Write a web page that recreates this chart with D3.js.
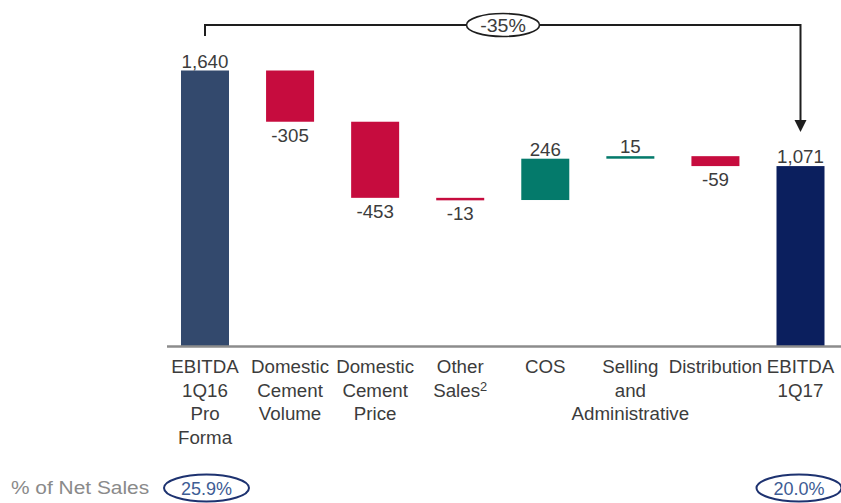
<!DOCTYPE html>
<html>
<head>
<meta charset="utf-8">
<script src="https://cdn.jsdelivr.net/npm/d3@7"></script>
<style>
  html, body { margin: 0; padding: 0; background: #ffffff; }
  svg { display: block; font-family: "Liberation Sans", Arial, Helvetica, sans-serif; }
</style>
</head>
<body>
<svg id="chart" width="841" height="503"></svg>
<script>
// EBITDA bridge, 1Q16 pro forma to 1Q17
const categories = [
  ["EBITDA", "1Q16", "Pro", "Forma"],
  ["Domestic", "Cement", "Volume"],
  ["Domestic", "Cement", "Price"],
  ["Other", "Sales\u00B2"],
  ["COS"],
  ["Selling", "and", "Administrative"],
  ["Distribution"],
  ["EBITDA", "1Q17"]
];
const values = [1640, -305, -453, -13, 246, 15, -59, 1071];
const kinds = ["total", "delta", "delta", "delta", "delta", "delta", "delta", "total"];
const netSalesPct = ["25.9%", "20.0%"];
const changeLabel = "-35%";

const colors = {
  start: "#33496d",
  end: "#0b1f5e",
  neg: "#c60c3e",
  pos: "#047a6b",
  text: "#3c3c3c",
  axis: "#8c8c8c",
  pctText: "#3d5c94",
  pctRing: "#1d3270"
};

const svg = d3.select("#chart");

const x = d3.scalePoint()
  .domain(d3.range(categories.length))
  .range([205, 800.5]);
const barW = 48;

const y = d3.scaleLinear().domain([0, 1640]).range([346, 70.5]);

// running totals for the floating segments
let running = 0;
const bars = values.map((v, i) => {
  let lo, hi;
  if (kinds[i] === "total") {
    lo = 0; hi = v; running = v;
  } else {
    const start = running;
    running += v;
    lo = Math.min(start, running); hi = Math.max(start, running);
  }
  let fill;
  if (kinds[i] === "total") fill = i === 0 ? colors.start : colors.end;
  else fill = v < 0 ? colors.neg : colors.pos;
  return { i, v, lo, hi, fill, kind: kinds[i] };
});

// bars
svg.append("g").selectAll("rect")
  .data(bars)
  .join("rect")
  .attr("x", d => x(d.i) - barW / 2)
  .attr("width", barW)
  .attr("y", d => y(d.hi))
  .attr("height", d => Math.max(2.5, y(d.lo) - y(d.hi)))
  .attr("fill", d => d.fill);

// baseline
svg.append("line")
  .attr("x1", 167).attr("x2", 841)
  .attr("y1", y(0) + 0.5).attr("y2", y(0) + 0.5)
  .attr("stroke", colors.axis).attr("stroke-width", 2.5);

// plain hyphen for negatives
const fmt = d3.formatLocale({ decimal: ".", thousands: ",", grouping: [3], currency: ["", ""], minus: "-" }).format(",");
const sx = 1.07;

// value labels
svg.append("g").selectAll("text")
  .data(bars)
  .join("text")
  .attr("transform", d => {
    const ty = (d.v < 0) ? y(d.lo) + 20 : y(d.hi) - 3;
    return `translate(${x(d.i)},${ty}) scale(${sx},1)`;
  })
  .attr("text-anchor", "middle")
  .attr("font-size", 17.5)
  .attr("fill", colors.text)
  .text(d => fmt(d.v));

// category labels
const cat = svg.append("g").selectAll("g")
  .data(categories)
  .join("g")
  .attr("transform", (d, i) => `translate(${x(i)},373)`);
cat.selectAll("text")
  .data(d => d)
  .join("text")
  .attr("transform", (d, j) => `translate(0,${j * 23.5}) scale(${sx},1)`)
  .attr("text-anchor", "middle")
  .attr("font-size", 17.5)
  .attr("fill", colors.text)
  .each(function(d) {
    const t = d3.select(this);
    if (d.endsWith("\u00B2")) {
      t.append("tspan").text(d.slice(0, -1));
      t.append("tspan").attr("font-size", 12).attr("dy", -6).text("2");
    } else {
      t.text(d);
    }
  });

// bracket from first to last total with change callout
const bY = 25;
const x0 = x(0), x1 = x(categories.length - 1);
const tipY = 132;
svg.append("path")
  .attr("d", `M${x0},36 V${bY} H${x1} V${tipY - 11}`)
  .attr("fill", "none")
  .attr("stroke", "#1e1e1e")
  .attr("stroke-width", 2);
svg.append("path")
  .attr("d", `M${x1 - 6},${tipY - 12} L${x1 + 6},${tipY - 12} L${x1},${tipY} Z`)
  .attr("fill", "#1e1e1e");

const cx = 503;
svg.append("ellipse")
  .attr("cx", cx).attr("cy", bY)
  .attr("rx", 36.5).attr("ry", 11.5)
  .attr("fill", "#fff")
  .attr("stroke", "#1e1e1e").attr("stroke-width", 1.6);
svg.append("text")
  .attr("transform", `translate(${cx},${bY + 6.5}) scale(1.12,1)`)
  .attr("text-anchor", "middle")
  .attr("font-size", 17.5)
  .attr("fill", colors.text)
  .text(changeLabel);

// % of net sales row
svg.append("text")
  .attr("transform", "translate(11,494) scale(1.13,1)")
  .attr("font-size", 18.5)
  .attr("fill", "#8a8a8a")
  .text("% of Net Sales");

const pct = svg.append("g").selectAll("g")
  .data(netSalesPct)
  .join("g")
  .attr("transform", (d, i) => `translate(${i === 0 ? 206.5 : 799},488)`);
pct.append("ellipse")
  .attr("rx", 42.5).attr("ry", 13.5)
  .attr("fill", "#fff")
  .attr("stroke", colors.pctRing).attr("stroke-width", 2);
pct.append("text")
  .attr("y", 6.5)
  .attr("text-anchor", "middle")
  .attr("font-size", 18)
  .attr("fill", colors.pctText)
  .text(d => d);
</script>
</body>
</html>
